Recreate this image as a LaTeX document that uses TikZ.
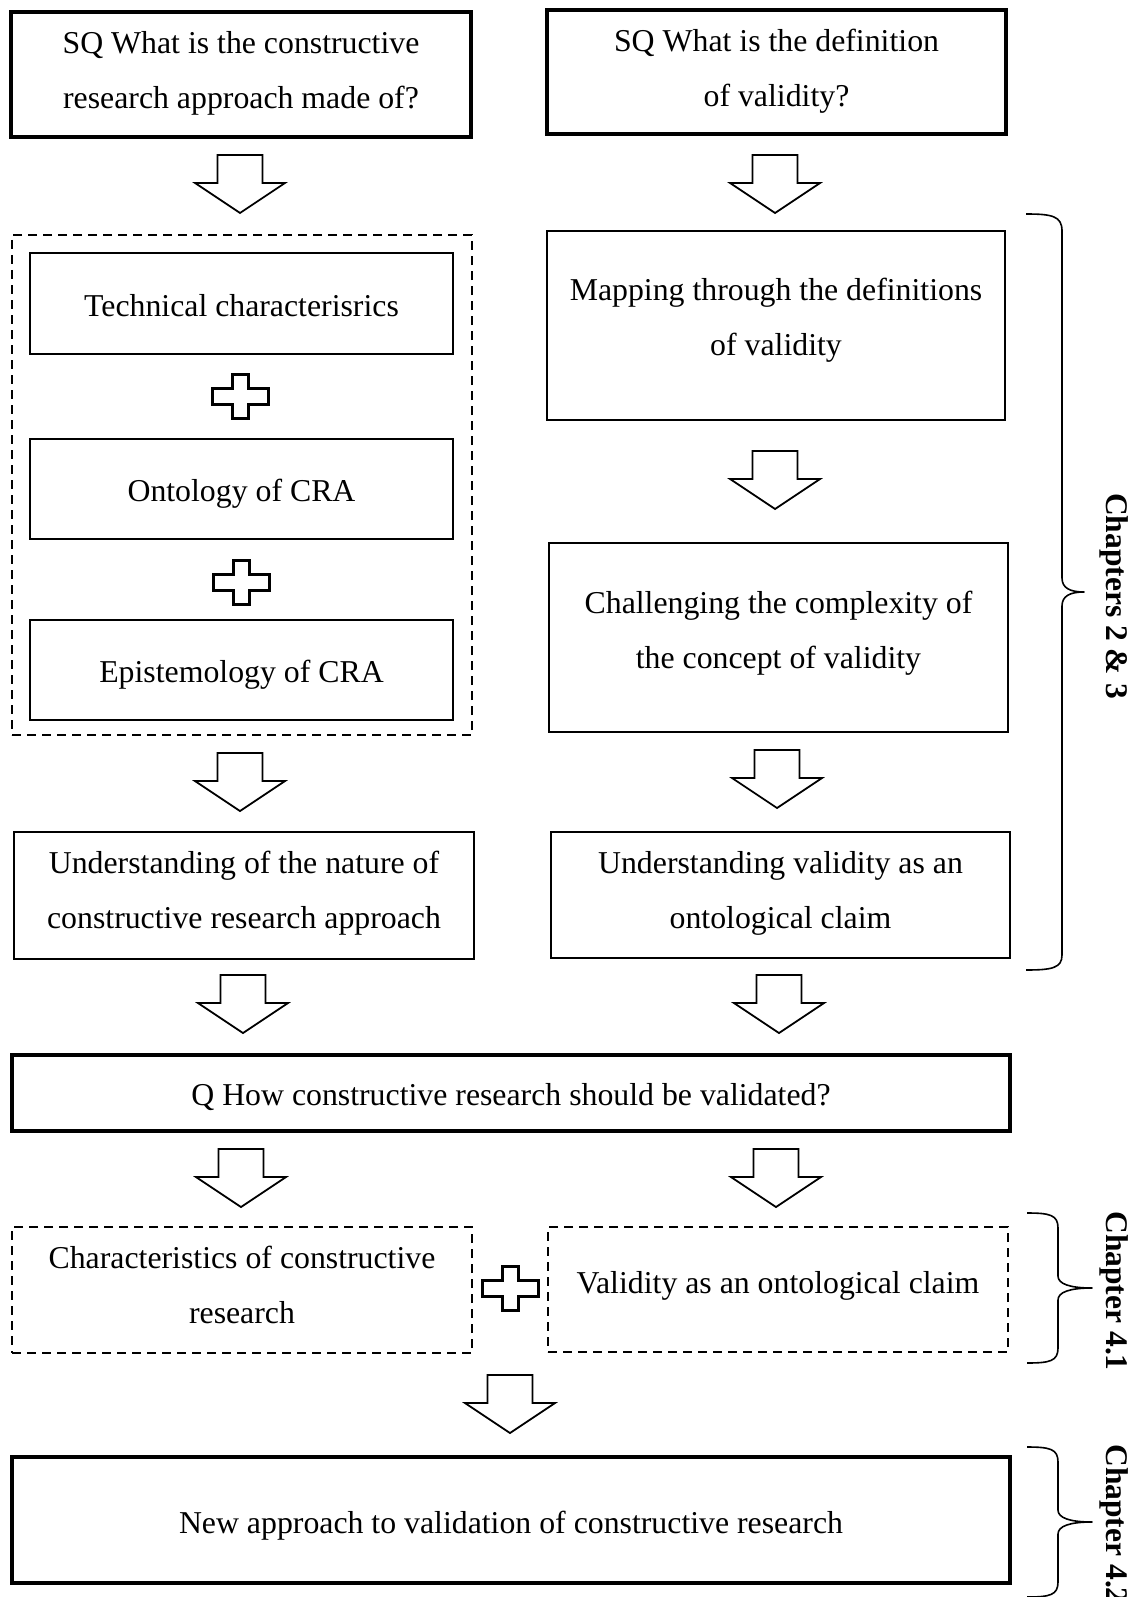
\documentclass[tikz,border=0pt]{standalone}
\usepackage{fontspec}
\setmainfont{Liberation Serif}
\begin{document}
\begin{tikzpicture}[x=1pt,y=-1pt,
  txt/.style={font=\fontsize{31.8}{55}\selectfont, align=center, inner sep=0pt},
  box/.style={draw, rectangle, inner sep=0pt},
  heavybox/.style={box, line width=4pt},
  midbox/.style={box, line width=2.3pt},
  thinbox/.style={box, line width=1.3pt},
  dashbox/.style={box, line width=2.2pt, dash pattern=on 9pt off 6pt},
  chap/.style={font=\fontsize{31.5}{38}\selectfont\bfseries, rotate=-90, inner sep=0pt},
  bracepath/.style={line width=1.6pt, line join=round},
  downarr/.pic={\draw[line width=1.8pt, fill=white, line join=miter]
     (-22.5,0) -- (22.5,0) -- (22.5,28) -- (45,28) -- (0,58) -- (-45,28) -- (-22.5,28) -- cycle;},
  plussign/.pic={\draw[line width=3pt, fill=white, line join=miter]
     (-8,-22) -- (8,-22) -- (8,-8) -- (28,-8) -- (28,8) -- (8,8) -- (8,22) -- (-8,22) -- (-8,8) -- (-28,8) -- (-28,-8) -- (-8,-8) -- cycle;}
]
\useasboundingbox (0,0) rectangle (1132,1597);

% top question boxes
\node[heavybox, minimum width=460pt, minimum height=125pt] (sq1) at (241,74.5) {};
\node[txt] (sq1t) at (241,73.5) {SQ What is the constructive\\research approach made of?};
\node[heavybox, line width=3.6pt, minimum width=459pt, minimum height=124pt] (sq2) at (776.5,72) {};
\node[txt] (sq2t) at (776.5,71) {SQ What is the definition\\of validity?};

% left dashed group
\node[dashbox, minimum width=460pt, minimum height=500pt] (grp) at (242,485) {};
\node[thinbox, minimum width=423pt, minimum height=101pt] (tech) at (241.5,303.5) {};
\node[txt] (techt) at (241.5,305.5) {Technical characterisrics};
\node[thinbox, minimum width=423pt, minimum height=100pt] (onto) at (241.5,489) {};
\node[txt] (ontot) at (241.5,494) {Ontology of CRA};
\node[thinbox, minimum width=423pt, minimum height=100pt] (epis) at (241.5,670) {};
\node[txt] (epist) at (241.5,675) {Epistemology of CRA};

% right column
\node[thinbox, line width=1.5pt, minimum width=458pt, minimum height=189pt] (map) at (776,325.5) {};
\node[txt] (mapt) at (776,320.5) {Mapping through the definitions\\of validity};
\node[thinbox, line width=1.5pt, minimum width=459pt, minimum height=189pt] (chal) at (778.5,637.5) {};
\node[txt] (chalt) at (778.5,633.5) {Challenging the complexity of\\the concept of validity};

% understanding boxes
\node[midbox, minimum width=460pt, minimum height=127pt] (und1) at (244,895.5) {};
\node[txt] (und1t) at (244,893.5) {Understanding of the nature of\\constructive research approach};
\node[midbox, minimum width=459pt, minimum height=126pt] (und2) at (780.5,895) {};
\node[txt] (und2t) at (780.5,893) {Understanding validity as an\\ontological claim};

% main question
\node[heavybox, minimum width=998pt, minimum height=76pt] (q) at (511,1093) {};
\node[txt] (qt) at (511,1097) {Q How constructive research should be validated?};

% dashed characteristic boxes
\node[dashbox, minimum width=460pt, minimum height=126pt] (char) at (242,1290) {};
\node[txt] (chart) at (242,1285) {Characteristics of constructive\\research};
\node[dashbox, minimum width=460pt, minimum height=125pt] (val) at (778,1289.5) {};
\node[txt] (valt) at (778,1285.5) {Validity as an ontological claim};

% final box
\node[heavybox, minimum width=998pt, minimum height=126pt] (new) at (511,1520) {};
\node[txt] (newt) at (511,1526) {New approach to validation of constructive research};

% block arrows
\pic at (240,155) {downarr};
\pic at (775,155) {downarr};
\pic at (775,451) {downarr};
\pic at (240,753) {downarr};
\pic at (777,750) {downarr};
\pic at (243,975) {downarr};
\pic at (779,975) {downarr};
\pic at (241,1149) {downarr};
\pic at (776,1149) {downarr};
\pic at (510,1375) {downarr};

% plus signs
\pic at (240,396) {plussign};
\pic at (241,582) {plussign};
\pic at (510,1288) {plussign};

% braces
\draw[bracepath] (1026,214) .. controls (1052,214) and (1062,216) .. (1062,231)
  -- (1062,578) .. controls (1062,588) and (1070,592) .. (1084,592)
  .. controls (1070,592) and (1062,596) .. (1062,606)
  -- (1062,955) .. controls (1062,968) and (1052,970) .. (1026,970);
\draw[bracepath] (1027,1213) .. controls (1050,1213) and (1058,1215) .. (1058,1228)
  -- (1058,1276) .. controls (1058,1284) and (1070,1288) .. (1092,1288)
  .. controls (1070,1288) and (1058,1292) .. (1058,1300)
  -- (1058,1348) .. controls (1058,1361) and (1050,1363) .. (1027,1363);
\draw[bracepath] (1027,1447) .. controls (1050,1447) and (1058,1449) .. (1058,1462)
  -- (1058,1510) .. controls (1058,1518) and (1070,1522) .. (1092,1522)
  .. controls (1070,1522) and (1058,1526) .. (1058,1534)
  -- (1058,1582) .. controls (1058,1595) and (1050,1597) .. (1027,1597);

% chapter labels
\node[chap] (c1) at (1114,596) {Chapters 2 \& 3};
\node[chap] (c2) at (1114,1291) {Chapter 4.1};
\node[chap] (c3) at (1114,1524) {Chapter 4.2};
\end{tikzpicture}
\end{document}
